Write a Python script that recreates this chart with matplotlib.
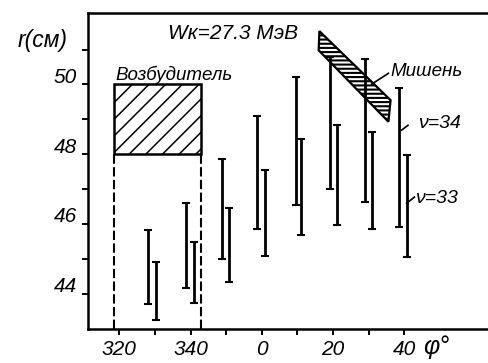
import matplotlib
matplotlib.use("Agg")
import matplotlib.pyplot as plt
from matplotlib.patches import Polygon, Rectangle
from matplotlib.transforms import ScaledTranslation

plt.rcParams['font.family'] = ['Liberation Sans', 'DejaVu Sans']
plt.rcParams['font.style'] = 'italic'

# ---- data (phi in degrees, unwrapped: 360 == 0) ----
phi_nu34 = [328.1, 338.7, 348.8, 358.8, 369.5, 379.3, 388.9, 398.7]
top_nu34 = [45.82, 46.60, 47.86, 49.09, 50.20, 50.78, 50.73, 49.91]
bot_nu34 = [43.69, 44.16, 44.98, 45.84, 46.53, 46.99, 46.64, 45.91]

phi_nu33 = [330.2, 341.0, 350.9, 360.9, 371.0, 381.2, 391.0, 400.8]
top_nu33 = [44.91, 45.48, 46.47, 47.56, 48.44, 48.85, 48.65, 47.99]
bot_nu33 = [43.25, 43.73, 44.33, 45.07, 45.67, 45.98, 45.85, 45.05]

xtick_pos = [320, 340, 360, 380, 400]
xtick_labels = ["320", "340", "0", "20", "40"]
xminor_pos = [330, 350, 370, 390]
ytick_pos = [44, 46, 48, 50]
ytick_labels = ["44", "46", "48", "50"]
yminor_pos = [45, 47, 49, 51]

exciter_phi = [318.5, 343.0]
exciter_r = [48.0, 50.0]
target_phi = [376.2, 376.0, 395.6, 396.2]
target_r = [51.53, 50.98, 48.93, 49.55]

fig = plt.figure(figsize=(4.89, 3.63), dpi=100)
ax = fig.add_axes([88/489, 1 - 328.5/363, 1 - 88/489, (328.5 - 13)/363])
ax.set_xlim(311.2, 423.85)
ax.set_ylim(43.0, 52.05)

for s in ['left', 'bottom', 'top']:
    ax.spines[s].set_linewidth(1.8)
ax.spines['right'].set_visible(False)

ax.set_xticks(xtick_pos)
ax.set_xticklabels(xtick_labels)
ax.set_xticks(xminor_pos, minor=True)
ax.set_yticks(ytick_pos)
ax.set_yticklabels(ytick_labels)
ax.set_yticks(yminor_pos, minor=True)
ax.tick_params(which='both', direction='out', length=4.5, width=1.4,
               labelsize=15, pad=3.5)
for lab in ax.get_yticklabels():
    lab.set_transform(lab.get_transform() + ScaledTranslation(0, 9/100, fig.dpi_scale_trans))

# error bars
def draw_bars(phis, tops, bots):
    mids = [(t + b) / 2 for t, b in zip(tops, bots)]
    errs = [(t - b) / 2 for t, b in zip(tops, bots)]
    ax.errorbar(phis, mids, yerr=errs, fmt='none', ecolor='black',
                elinewidth=2.0, capsize=3, capthick=1.5, zorder=3)

draw_bars(phi_nu34, top_nu34, bot_nu34)
draw_bars(phi_nu33, top_nu33, bot_nu33)

# exciter box
with plt.rc_context({'hatch.linewidth': 1.1}):
    rect = Rectangle((exciter_phi[0], exciter_r[0]), exciter_phi[1] - exciter_phi[0],
                     exciter_r[1] - exciter_r[0], facecolor='white', edgecolor='black',
                     linewidth=1.8, hatch='//', zorder=4)
    ax.add_patch(rect)
for p in exciter_phi:
    ax.plot([p, p], [43.0, exciter_r[0]], color='black', lw=1.5,
            ls=(0, (4.5, 1.6)), zorder=2, clip_on=False)

# target
with plt.rc_context({'hatch.linewidth': 1.5}):
    poly = Polygon(list(zip(target_phi, target_r)), closed=True, facecolor='none',
                   edgecolor='black', linewidth=1.6, hatch='----', zorder=5)
    ax.add_patch(poly)

# texts
ax.text(333.7, 51.47, "Wк=27.3 МэВ", fontsize=15, ha='left', va='center')
ax.text(318.8, 50.27, "Возбудитель", fontsize=13.5, ha='left', va='center')
ax.text(396.05, 50.38, "Мишень", fontsize=13.5, ha='left', va='center')
ax.plot([395.6, 390.9], [50.32, 50.01], color='black', lw=1.2, zorder=6)
ax.text(403.9, 48.89, "ν=34", fontsize=14, ha='left', va='center')
ax.plot([399.3, 401.1], [48.69, 48.83], color='black', lw=1.2)
ax.text(403.0, 46.73, "ν=33", fontsize=14, ha='left', va='center')
ax.plot([400.7, 402.9], [46.59, 46.77], color='black', lw=1.2)
ax.text(291.3, 51.27, "r(см)", fontsize=16.5, ha='left', va='center', clip_on=False)
ax.text(405.3, 42.46, "φ°", fontsize=18, ha='left', va='center', clip_on=False)

fig.savefig("out.png", dpi=100)
